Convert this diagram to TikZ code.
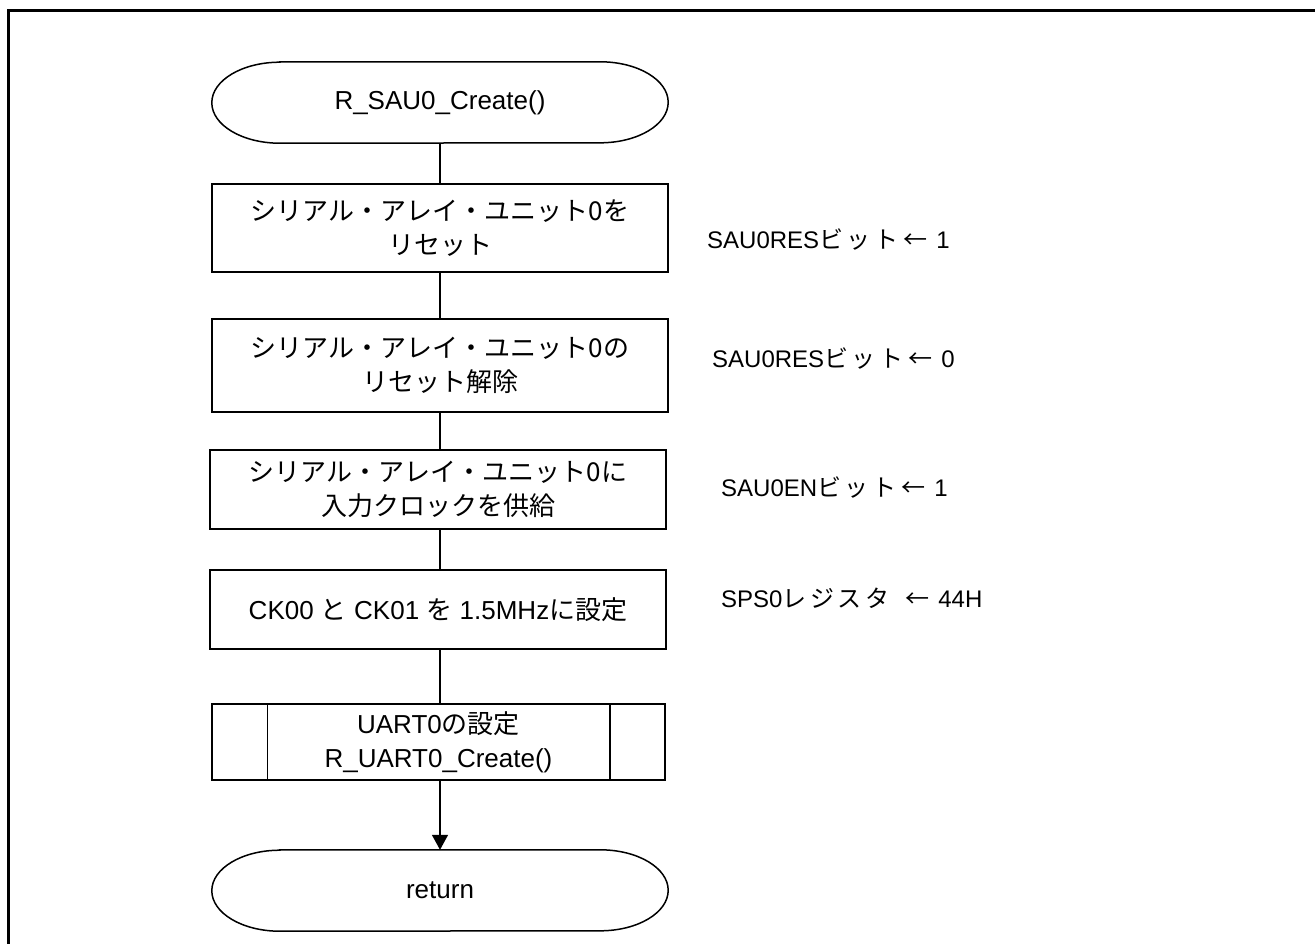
\documentclass[tikz,border=0pt]{standalone}
\usepackage{fontspec}
\setmainfont{Liberation Sans}
\newfontfamily\jp{Noto Sans CJK JP}
\newfontfamily\jpl[LetterSpace=15]{Noto Sans CJK JP}
\usetikzlibrary{arrows.meta}
\newcommand\boxfnt{\fontsize{26}{34}\selectfont}
\newcommand\lblfnt{\fontsize{24}{30}\selectfont}
\newcommand\larr{{\jp ←}}
\begin{document}
\begin{tikzpicture}[x=1pt,y=-1pt,
  line/.style={line width=1.5pt},
  box/.style={draw, line width=1.5pt, minimum width=456pt, inner sep=0pt, align=center, font=\boxfnt},
  term/.style={minimum width=456pt, minimum height=81pt, inner sep=0pt, align=center, font=\boxfnt},
  lbl/.style={anchor=west, inner sep=0pt, font=\lblfnt},
  tip/.style={-{Triangle[length=15pt,width=16pt]}},
]
\useasboundingbox (0,0) rectangle (1315,943);
\clip (0,0) rectangle (1315,943);
\fill[white] (0,0) rectangle (1315,943);
\draw[line width=2.7pt] (8.7,960) -- (8.7,10.7) -- (1330,10.7);

\node[term] (start) at (440,102.5) {R\_SAU0\_Create()};
\node[box, minimum height=88pt] (b1) at (440,228) {{\jp シリアル・アレイ・ユニット0を}\\{\jp リセット}};
\node[box, minimum height=93pt] (b2) at (440,365.5) {{\jp シリアル・アレイ・ユニット0の}\\{\jp リセット解除}};
\node[box, minimum height=79pt] (b3) at (438,489.5) {{\jp シリアル・アレイ・ユニット0に}\\{\jp 入力クロックを供給}};
\node[box, minimum height=79pt] (b4) at (438,609.5) {CK00 {\jp と} CK01 {\jp を} 1.5MHz{\jp に設定}};
\node[box, minimum height=76pt, minimum width=453pt] (b5) at (438.5,742) {UART0{\jp の設定}\\R\_UART0\_Create()};
\node[term] (ret) at (440,890.5) {return};

\foreach \t in {start,ret}{
  \draw[line] ([xshift=68pt]\t.north west) -- ([xshift=-68pt]\t.north east)
    arc[start angle=90, end angle=-90, x radius=68pt, y radius=40.5pt]
    -- ([xshift=68pt]\t.south west)
    arc[start angle=270, end angle=90, x radius=68pt, y radius=40.5pt] -- cycle;
}
\draw[line] ([xshift=56pt]b5.north west) -- ([xshift=56pt]b5.south west);
\draw[line] ([xshift=-56pt]b5.north east) -- ([xshift=-56pt]b5.south east);

\draw[line] (start.south) -- (b1.north);
\draw[line] (b1.south) -- (b2.north);
\draw[line] (b2.south) -- (b2.south |- b3.north);
\draw[line] (b3.south -| b2.south) -- (b2.south |- b4.north);
\draw[line] (b4.south -| b2.south) -- (b2.south |- b5.north);
\draw[line, tip] (b5.south -| b2.south) -- (ret.north);

\node[lbl] (l1) at (707,240) {SAU0RES{\jpl ビット}\hspace{5pt}\larr\hspace{9pt}1};
\node[lbl] (l2) at (712,359) {SAU0RES{\jpl ビット}\hspace{5pt}\larr\hspace{9pt}0};
\node[lbl] (l3) at (721,488) {SAU0EN{\jpl ビット}\hspace{5pt}\larr\hspace{9pt}1};
\node[lbl] (l4) at (721,598) {SPS0{\jpl レジスタ}\hspace{16pt}\larr\hspace{9pt}44H};
\end{tikzpicture}
\end{document}
